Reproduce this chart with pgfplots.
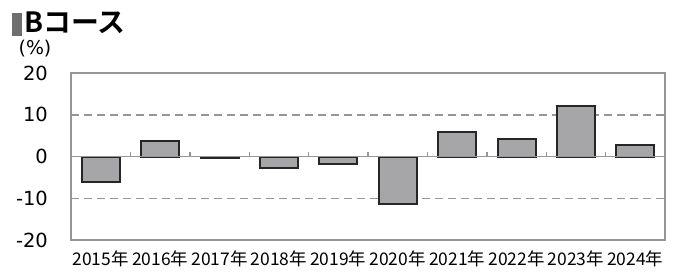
\documentclass[border=0pt]{standalone}
\usepackage{pgfplots}
\pgfplotsset{compat=1.18}
\usepackage{fontspec}
\setmainfont{DejaVu Sans}
\newfontfamily\jp{Noto Sans CJK JP}
\newfontfamily\jpb{Noto Sans CJK JP}[BoldFont={Noto Sans CJK JP Bold}]
\definecolor{framegray}{RGB}{150,150,150}
\definecolor{barfill}{RGB}{166,166,168}
\definecolor{titlegray}{RGB}{110,110,110}
\begin{document}
\begin{tikzpicture}
\begin{axis}[
  scale only axis,
  width=594bp, height=167bp,
  xmin=-0.5, xmax=9.5,
  ymin=-20, ymax=20,
  axis line style={framegray, line width=1.8bp},
  xtick={0,...,9},
  xticklabels={2015年,2016年,2017年,2018年,2019年,2020年,2021年,2022年,2023年,2024年},
  x tick label style={font=\jp\fontsize{17.5}{18}\selectfont, yshift=-7bp},
  x tick style={draw=none},
  ytick={-20,-10,0,10,20},
  yticklabels={-20,-10,0,10,20},
  ytick pos=left,
  tick align=inside,
  major tick length=4bp,
  y tick style={framegray, line width=1.4bp},
  y tick label style={font=\fontsize{19.5}{20}\selectfont, anchor=east, inner sep=0pt, xshift=-23bp},
  /pgf/number format/assume math mode=true,
  ymajorgrids,
  grid style={framegray, line width=1.5bp, dash pattern=on 8bp off 5bp},
  clip=false,
]
\addplot[ybar, bar width=38bp, fill=barfill, draw=black!85, line width=2bp]
  coordinates {(0,-6.0) (1,3.7) (2,-0.3) (3,-2.7) (4,-1.9) (5,-11.4) (6,5.8) (7,4.2) (8,12.0) (9,2.8)};
\addplot[framegray, line width=1.8bp, no marks, forget plot] coordinates {(-0.5,0) (9.5,0)};
\addplot[ycomb, framegray, line width=1.4bp, no marks, forget plot]
  coordinates {(0.5,1) (1.5,1) (2.5,1) (3.5,1) (4.5,1) (5.5,1) (6.5,1) (7.5,1) (8.5,1)};
\end{axis}
\node[anchor=base, inner sep=0pt, font=\fontsize{19}{20}\selectfont] at (-36bp,185bp) {(\%)};
\fill[titlegray] (-59bp,204bp) rectangle (-49bp,227bp);
\node[anchor=base west, inner sep=0pt, font=\jpb\bfseries\fontsize{28}{30}\selectfont] at (-47bp,207bp) {Bコース};
\path (-71bp,-35bp) rectangle (607bp,240bp);
\end{tikzpicture}
\end{document}
